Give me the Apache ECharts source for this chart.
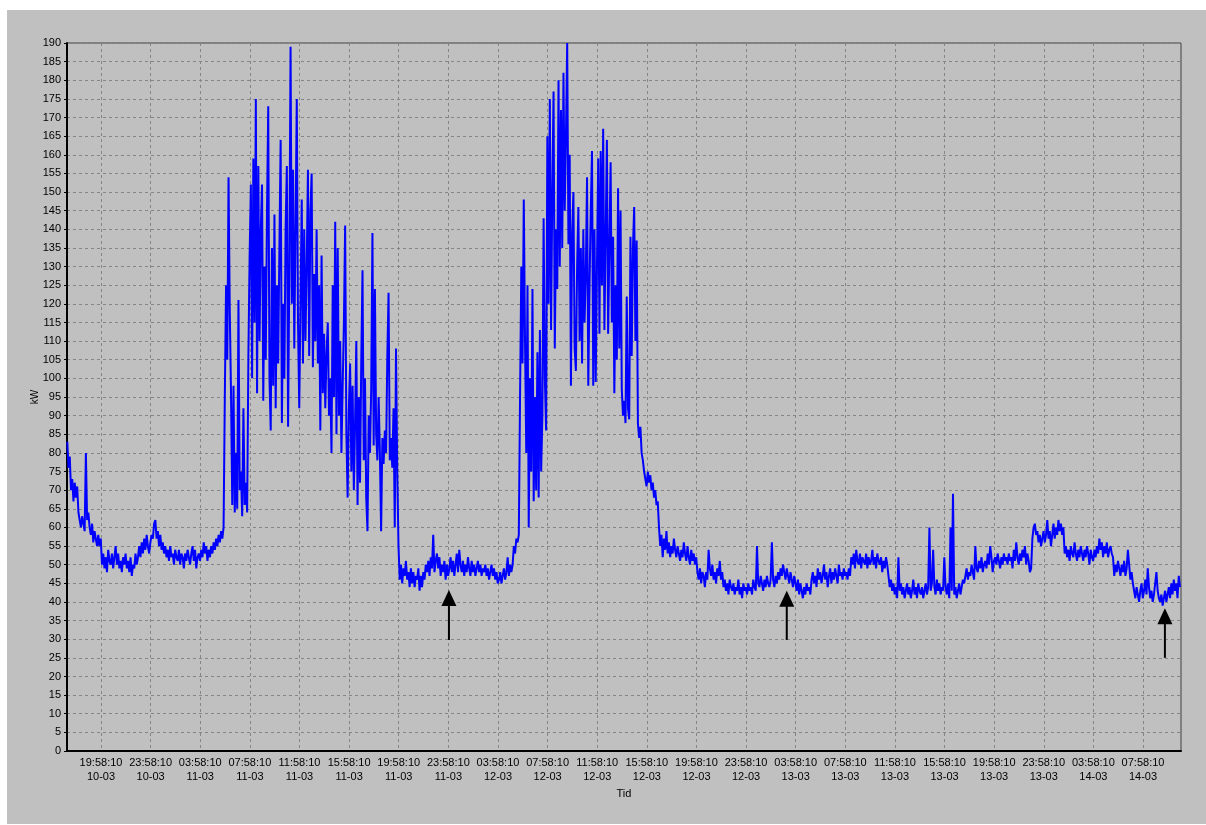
<!DOCTYPE html>
<html>
<head>
<meta charset="utf-8">
<script src="https://cdn.jsdelivr.net/npm/echarts@6/dist/echarts.min.js"></script>
<style>
  html, body { margin: 0; padding: 0; background: #ffffff; }
  #chart { position: absolute; left: 7px; top: 10px; width: 1199px; height: 814px; background: #c0c0c0; }
</style>
</head>
<body>
<div id="chart"></div>
<script>
// Demand log in kW, one reading every 6 minutes, starting 10-03 17:15:00
const sampleStartDate = '10-03';
const sampleStartTime = '17:15:00';
const sampleStepMinutes = 6;

const kwDay10 = [
  83, 76, 79, 70, 73, 67, 72, 68, 71, 64, 62, 60, 63, 61, 59, 80, 62, 64, 60, 58,
  61, 56, 59, 57, 55, 58, 55, 57,
  50, 53, 49, 52, 48, 54, 51, 50, 53, 49, 52, 55, 50, 53, 49, 51, 48, 52, 50, 53,
  49, 51, 48, 52, 47, 50, 49, 53, 50, 52, 55, 52, 56, 53, 57, 54, 58, 55, 53, 56
];

const kwDay11 = [
  58, 57, 61, 62, 57, 59, 55, 58, 54, 56, 53, 55, 52, 54, 51, 55, 52, 53, 50, 54,
  52, 51, 54, 50, 53, 52, 49, 53, 51, 54, 52, 50, 53, 55, 51, 54, 49, 52, 53, 51,
  54, 52, 56, 53, 55, 51, 54, 52, 55, 53, 56, 54, 57, 55, 58, 56, 59, 57, 60, 95,
  125, 105, 154, 118, 96, 66, 98, 64, 80, 65, 121, 70, 75, 63, 92, 66, 72, 64, 106, 133,
  152, 100, 159, 115, 175, 96, 157, 110, 140, 152, 94, 130, 105, 145, 173, 100, 86, 135, 98, 144,
  92, 125, 104, 135, 164, 88, 120, 100, 140, 157, 87, 130, 189, 120, 156, 108, 140, 175, 115, 92,
  120, 148, 104, 140, 110, 130, 156, 106, 145, 155, 103, 128, 110, 140, 104, 125, 86, 133, 96, 112,
  92, 107, 115, 90, 100, 80, 125, 95, 142, 85, 135, 90, 110, 80, 98, 115, 141, 85, 68, 92,
  104, 75, 98, 70, 88, 110, 66, 95, 72, 105, 129, 78, 100, 68, 59, 90, 80, 97, 139, 82,
  124, 85, 78, 95, 80, 59, 84, 77, 86, 80, 106, 123, 78, 84, 76, 92, 60, 108, 75, 55,
  46, 50, 45, 49, 47, 51, 46, 48, 44, 49, 45, 48, 44, 47, 46, 49, 43, 47, 44, 48,
  46, 50, 48, 51, 47, 52, 49, 58, 48, 51, 53, 49, 52, 47, 50, 48, 51, 46, 50, 47
];

const kwDay12 = [
  49, 52, 48, 51, 47, 50, 53, 48, 54, 50, 48, 51, 47, 50, 48, 52, 49, 47, 51, 48,
  50, 47, 49, 51, 48, 50, 47, 49, 48, 50, 47, 49, 46, 48, 50, 47, 49, 46, 48, 45,
  46, 48, 45, 47, 49, 46, 48, 52, 47, 50, 48, 50, 55, 53, 57, 56, 58, 95, 130, 104,
  148, 110, 80, 125, 60, 100, 75, 124, 67, 95, 70, 107, 68, 113, 75, 90, 143, 100, 86, 165,
  120, 175, 113, 150, 177, 108, 140, 124, 180, 130, 172, 135, 182, 145, 165, 190, 136, 160, 98, 139,
  150, 108, 102, 130, 146, 110, 135, 104, 140, 115, 128, 154, 98, 125, 145, 161, 98, 140, 99, 130,
  159, 112, 161, 125, 167, 113, 138, 164, 112, 135, 158, 115, 138, 96, 125, 105, 151, 108, 145, 97,
  90, 94, 88, 122, 92, 89, 138, 106, 135, 146, 110, 137, 88, 84, 87, 80, 78, 75, 73, 71,
  75, 72, 74, 70, 72, 68, 70, 66, 67, 60, 55, 58, 52, 57, 54, 59, 53, 56, 52, 55,
  53, 57, 54, 52, 55, 53, 51, 54, 52, 56, 53, 51, 55, 52, 50, 54, 51, 53, 50, 52,
  48, 46, 49, 45, 48, 47, 44, 48, 46, 54, 49, 47, 50, 46, 48, 45, 49, 47, 51, 46,
  48, 44, 46, 43, 45, 42, 46, 44, 43, 45, 42, 44, 43, 46, 42, 44, 41, 45, 43, 44
];

const kwDay13 = [
  42, 45, 43, 44, 42, 46, 44, 43, 55, 45, 44, 47, 45, 43, 46, 44, 47, 45, 44, 46,
  56, 46, 44, 47, 45, 48, 46, 49, 47, 50, 48, 46, 49, 47, 45, 48, 46, 44, 47, 45,
  43, 46, 42, 45, 43, 41, 44, 42, 45, 43, 44, 42, 46, 48, 45, 47, 44, 49, 46, 48,
  45, 47, 50, 46, 48, 44, 47, 49, 45, 48, 46, 49, 47, 45, 50, 47, 48, 46, 49, 47,
  48, 46, 49, 47, 52, 50, 53, 49, 54, 51, 50, 53, 49, 52, 51, 50, 53, 49, 52, 50,
  51, 54, 50, 52, 49, 53, 51, 50, 52, 48, 51, 49, 52, 50, 47, 44, 46, 43, 45, 42,
  44, 41, 52, 43, 45, 42, 44, 41, 43, 45, 42, 44, 41, 43, 46, 42, 44, 41, 45, 43,
  42, 44, 41, 43, 45, 42, 44, 60, 43, 45, 54, 44, 42, 46, 43, 45, 42, 44, 43, 52,
  44, 42, 45, 41, 60, 43, 69, 42, 44, 41, 43, 45, 42, 44, 46, 45, 47, 49, 46, 48,
  47, 50, 48, 46, 55, 49, 48, 51, 49, 52, 48, 50, 51, 49, 53, 50, 55, 52, 48, 51,
  52, 50, 53, 51, 49, 52, 50, 53, 51, 52, 50, 53, 51, 52, 49, 54, 51, 56, 52, 50,
  53, 51, 54, 52, 55, 50, 53, 51, 48, 49, 57, 60, 61, 58, 59, 56, 58, 55, 57, 59
];

const kwDay14 = [
  56, 58, 62, 57, 59, 55, 58, 61, 57, 60, 58, 62, 59, 61, 58, 60, 53, 55, 52, 54,
  51, 55, 53, 52, 56, 53, 51, 54, 52, 55, 53, 51, 54, 52, 55, 53, 50, 54, 52, 51,
  54, 52, 55, 53, 57, 54, 56, 52, 55, 53, 56, 52, 54, 55, 53, 52, 47, 50, 48, 51,
  49, 47, 50, 48, 51, 47, 49, 54, 50, 46, 48, 45, 43, 41, 44, 42, 40, 43, 45, 41,
  43, 46, 42, 49, 44, 41, 43, 40, 42, 45, 48, 43, 41, 40, 42, 39, 41, 43, 40, 42,
  44, 41, 45, 42, 46, 43, 45, 41, 47, 44
];

// Time axis ticks (every 4 hours)
const tickTimes = [
  '19:58:10', '23:58:10', '03:58:10', '07:58:10', '11:58:10', '15:58:10',
  '19:58:10', '23:58:10', '03:58:10', '07:58:10', '11:58:10', '15:58:10',
  '19:58:10', '23:58:10', '03:58:10', '07:58:10', '11:58:10', '15:58:10',
  '19:58:10', '23:58:10', '03:58:10', '07:58:10'
];
const tickDates = [
  '10-03', '10-03', '11-03', '11-03', '11-03', '11-03',
  '11-03', '11-03', '12-03', '12-03', '12-03', '12-03',
  '12-03', '12-03', '13-03', '13-03', '13-03', '13-03',
  '13-03', '13-03', '14-03', '14-03'
];

// Visible time window
const viewStart = ['10-03', '17:13:40'];
const viewEnd = ['14-03', '11:01:50'];

// Arrow annotations: date, time, kW at the tip, kW at the tail
const arrowMarks = [
  ['12-03', '00:01:00', 43.2, 29.8],
  ['13-03', '03:15:00', 43.0, 29.8],
  ['14-03', '09:44:00', 38.3, 25.0]
];

// hours since 10-03 00:00:00
function toHours(date, time) {
  const day = parseInt(date.slice(0, 2), 10);
  const [h, m, s] = time.split(':').map(Number);
  return (day - 10) * 24 + h + m / 60 + s / 3600;
}

const kw = [].concat(kwDay10, kwDay11, kwDay12, kwDay13, kwDay14);
const t0 = toHours(sampleStartDate, sampleStartTime);
const points = kw.map((v, i) => [t0 + i * sampleStepMinutes / 60, v]);

const tickValues = tickTimes.map((tm, k) => toHours(tickDates[k], tm));
function tickLabel(v) {
  const k = tickValues.findIndex(tv => Math.abs(tv - v) < 1e-6);
  return k < 0 ? '' : tickTimes[k] + '\n' + tickDates[k];
}

const arrowData = arrowMarks.map(a => [toHours(a[0], a[1]), a[2], a[3]]);

const chart = echarts.init(document.getElementById('chart'), null, { renderer: 'canvas' });
const fontFamily = '"Liberation Sans", Arial, Helvetica, sans-serif';
const gridLine = { show: true, lineStyle: { color: '#858585', type: [3, 3], width: 1 } };

chart.setOption({
  animation: false,
  backgroundColor: '#c0c0c0',
  textStyle: { fontFamily: fontFamily },
  grid: {
    left: 60, top: 33, right: 25, bottom: 73,
    show: true, borderColor: '#404040', borderWidth: 1,
    backgroundColor: 'transparent'
  },
  xAxis: {
    type: 'value',
    min: toHours(viewStart[0], viewStart[1]),
    max: toHours(viewEnd[0], viewEnd[1]),
    name: 'Tid',
    nameLocation: 'middle',
    nameGap: 37,
    nameMoveOverlap: false,
    nameTextStyle: { color: '#000', fontSize: 11, fontFamily: fontFamily },
    axisLine: { show: true, onZero: false, lineStyle: { color: '#000', width: 2 } },
    axisTick: { show: false, customValues: tickValues },
    axisLabel: {
      customValues: tickValues,
      formatter: tickLabel,
      color: '#000', fontSize: 11, lineHeight: 14, margin: 5,
      fontFamily: fontFamily
    },
    splitLine: gridLine
  },
  yAxis: {
    type: 'value',
    min: 0, max: 190, interval: 5,
    name: 'kW',
    nameLocation: 'middle',
    nameGap: 27,
    nameRotate: 90,
    nameMoveOverlap: false,
    nameTextStyle: { color: '#000', fontSize: 10, fontFamily: fontFamily },
    axisLine: { show: true, lineStyle: { color: '#000', width: 2 } },
    axisTick: { show: true, length: 3, lineStyle: { color: '#000', width: 1 } },
    axisLabel: { color: '#000', fontSize: 11, margin: 6, fontFamily: fontFamily },
    splitLine: gridLine
  },
  series: [
    {
      type: 'line',
      data: points,
      showSymbol: false,
      symbol: 'none',
      clip: true,
      lineStyle: { color: '#0000ff', width: 2 },
      itemStyle: { color: '#0000ff' },
      z: 3
    },
    {
      type: 'custom',
      data: arrowData,
      z: 4,
      silent: true,
      renderItem: function (params, api) {
        const tip = api.coord([api.value(0), api.value(1)]);
        const tail = api.coord([api.value(0), api.value(2)]);
        const headH = 16, headW = 15;
        return {
          type: 'group',
          children: [
            {
              type: 'line',
              shape: { x1: tip[0], y1: tip[1] + headH - 1, x2: tail[0], y2: tail[1] },
              style: { stroke: '#000', lineWidth: 2 }
            },
            {
              type: 'polygon',
              shape: { points: [[tip[0], tip[1]], [tip[0] - headW / 2, tip[1] + headH], [tip[0] + headW / 2, tip[1] + headH]] },
              style: { fill: '#000' }
            }
          ]
        };
      }
    }
  ]
});
</script>
</body>
</html>
